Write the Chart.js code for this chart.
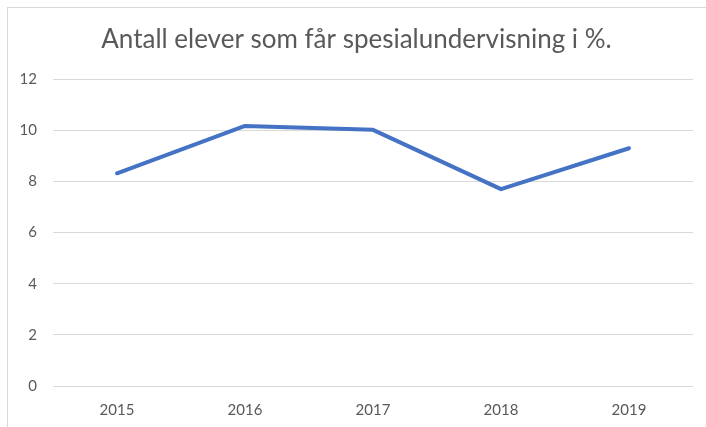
<!DOCTYPE html>
<html>
<head>
<meta charset="utf-8">
<script src="https://cdn.jsdelivr.net/npm/chart.js@4"></script>
<style>
  html, body { margin: 0; padding: 0; background: #fff; }
  #wrap { position: relative; width: 706px; height: 427px; overflow: hidden; }
  #frame { position: absolute; left: 7px; top: 7px; width: 720px; height: 440px; border: 1px solid #d9d9d9; box-sizing: border-box; }
  #chart { position: absolute; left: 0; top: 0; }
</style>
</head>
<body>
<div id="wrap">
  <div id="frame"></div>
  <canvas id="chart" width="706" height="427"></canvas>
</div>
<script>
const years = ['2015', '2016', '2017', '2018', '2019'];
const andel = [8.32, 10.17, 10.02, 7.7, 9.3];
const tittel = 'Antall elever som får spesialundervisning i %.';

const grey = '#595959';
const gridGrey = '#d9d9d9';
const fontFam = 'Lato, "Open Sans", sans-serif';

new Chart(document.getElementById('chart'), {
    type: 'line',
    data: {
        labels: years,
        datasets: [{
            data: andel,
            borderColor: '#4472C4',
            borderWidth: 4,
            pointRadius: 0,
            borderCapStyle: 'round',
            borderJoinStyle: 'round',
            tension: 0
        }]
    },
    options: {
        responsive: false,
        animation: false,
        devicePixelRatio: 1,
        layout: {
            padding: { top: 24, right: 13, bottom: -7, left: 20 }
        },
        scales: {
            y: {
                min: 0,
                max: 12,
                border: { display: false },
                grid: { color: gridGrey, lineWidth: 1, drawTicks: false },
                ticks: {
                    stepSize: 2,
                    color: grey,
                    padding: 16,
                    font: { family: fontFam, size: 15 }
                },
                afterFit: function(scale) { scale.width = 33; }
            },
            x: {
                offset: true,
                border: { display: false },
                grid: { display: false, drawTicks: false },
                ticks: {
                    color: grey,
                    padding: 15,
                    font: { family: fontFam, size: 15 }
                }
            }
        },
        plugins: {
            legend: { display: false },
            tooltip: { enabled: false },
            title: {
                display: true,
                text: tittel,
                color: grey,
                font: { family: fontFam, size: 26, weight: 'normal' },
                padding: { top: 0, bottom: 24 }
            }
        }
    }
});
</script>
</body>
</html>
